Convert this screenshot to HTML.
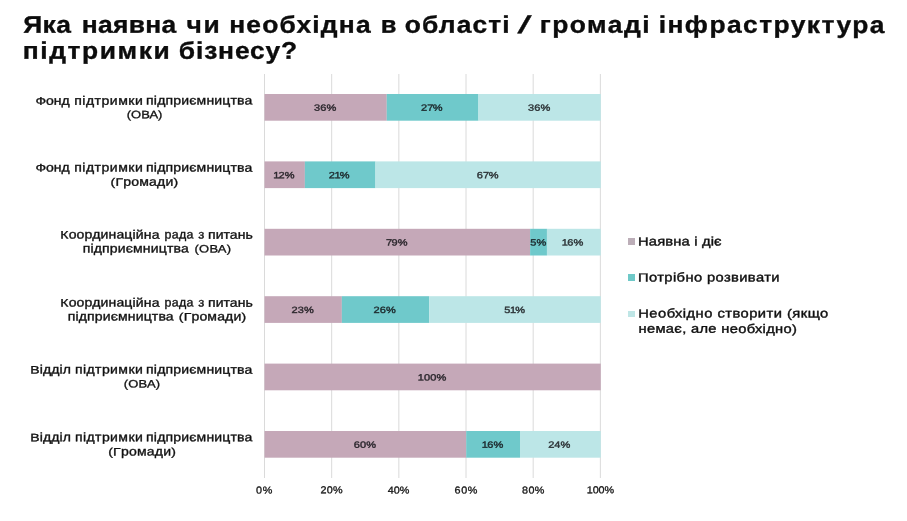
<!DOCTYPE html>
<html lang="uk"><head><meta charset="utf-8"><title>Інфраструктура підтримки бізнесу</title>
<style>
html,body{margin:0;padding:0;background:#fff;}
body{text-rendering:geometricPrecision;width:907px;height:521px;position:relative;overflow:hidden;font-family:"Liberation Sans",sans-serif;color:#111;}
.abs{position:absolute;}
h1{position:absolute;left:0;top:12px;margin:0;width:907px;height:54px;font-size:24px;line-height:26px;font-weight:bold;color:#0c0c0c;-webkit-text-stroke:0.35px #0c0c0c;}
h1 span{position:absolute;white-space:nowrap;transform-origin:0 0;}
.dl{position:absolute;font-size:9.1px;color:rgba(15,15,20,0.72);text-align:center;line-height:26.6px;height:26.6px;white-space:nowrap;transform:scaleX(1.21);-webkit-text-stroke:0.45px rgba(15,15,20,0.72);letter-spacing:0.1px;}
.cat{position:absolute;font-size:12.3px;line-height:13px;white-space:nowrap;color:#111;transform-origin:0 0;-webkit-text-stroke:0.35px #111;}
.c{display:inline-block;line-height:normal;transform-origin:0 0.905em;}
.cat .c{transform:scaleY(0.878);}
.lg .c{transform:scaleY(0.936);}
.n1{margin:0 -0.8px 0 -0.5px}.n7{margin-right:-0.5px}
.ax{position:absolute;font-size:10px;line-height:12px;white-space:nowrap;color:#151515;transform-origin:0 0;-webkit-text-stroke:0.3px #151515;}
.lg{position:absolute;font-size:12.6px;line-height:15px;white-space:nowrap;color:#111;transform-origin:0 0;-webkit-text-stroke:0.4px #111;}
.sw{position:absolute;width:6.9px;height:6.8px;left:627.9px;}
</style></head><body>
<h1><span style="left:23px;top:0px;letter-spacing:0.368px;transform:translate(0.25px,0.80px) rotate(0.03deg)  scaleX(1.1000)">Яка</span> <span style="left:81px;top:0px;letter-spacing:0.300px;transform:translate(0.75px,0.80px) rotate(0.03deg)  scaleX(1.1000)">наявна</span> <span style="left:186px;top:0px;letter-spacing:1.427px;transform:translate(0.60px,0.80px) rotate(0.03deg)  scaleX(1.1000)">чи</span> <span style="left:229px;top:0px;letter-spacing:1.105px;transform:translate(0.15px,0.80px) rotate(0.03deg)  scaleX(1.1000)">необхідна</span> <span style="left:380px;top:0px;letter-spacing:0.000px;transform:translate(0.80px,0.80px) rotate(0.03deg)  scaleX(1.0652)">в</span> <span style="left:404px;top:0px;letter-spacing:0.983px;transform:translate(0.85px,0.80px) rotate(0.03deg)  scaleX(1.1000)">області</span> <span style="left:523px;top:0px;letter-spacing:0.000px;transform:translate(0.30px,0.80px) rotate(0.03deg) skewX(-17deg) scaleX(1.4000)">/</span> <span style="left:539px;top:0px;letter-spacing:1.341px;transform:translate(0.80px,0.80px) rotate(0.03deg)  scaleX(1.1000)">громаді</span> <span style="left:658px;top:0px;letter-spacing:1.293px;transform:translate(0.75px,0.80px) rotate(0.03deg)  scaleX(1.1000)">інфраструктура</span> <span style="left:22px;top:26px;letter-spacing:1.436px;transform:translate(0.80px,0.75px) rotate(0.03deg)  scaleX(1.1000)">підтримки</span> <span style="left:178px;top:26px;letter-spacing:0.761px;transform:translate(0.85px,0.75px) rotate(0.03deg)  scaleX(1.1000)">бізнесу?</span></h1>

<svg class="abs" style="left:0;top:0" width="907" height="521" viewBox="0 0 907 521"><rect x="264.00" y="74" width="1" height="404" fill="#dadada"/><rect x="331.17" y="74" width="1" height="404" fill="#dadada"/><rect x="398.34" y="74" width="1" height="404" fill="#dadada"/><rect x="465.51" y="74" width="1" height="404" fill="#dadada"/><rect x="532.68" y="74" width="1" height="404" fill="#dadada"/><rect x="599.85" y="74" width="1" height="404" fill="#dadada"/><rect x="264.50" y="94.00" width="122.29" height="26.7" fill="#c5a8b8"/><rect x="386.74" y="94.00" width="91.73" height="26.7" fill="#6fc9cb"/><rect x="478.42" y="94.00" width="122.33" height="26.7" fill="#bce6e7"/><rect x="264.50" y="161.40" width="40.39" height="26.7" fill="#c5a8b8"/><rect x="304.84" y="161.40" width="70.65" height="26.7" fill="#6fc9cb"/><rect x="375.45" y="161.40" width="225.30" height="26.7" fill="#bce6e7"/><rect x="264.50" y="228.80" width="265.65" height="26.7" fill="#c5a8b8"/><rect x="530.10" y="228.80" width="16.86" height="26.7" fill="#6fc9cb"/><rect x="546.91" y="228.80" width="53.84" height="26.7" fill="#bce6e7"/><rect x="264.50" y="296.20" width="77.38" height="26.7" fill="#c5a8b8"/><rect x="341.83" y="296.20" width="87.46" height="26.7" fill="#6fc9cb"/><rect x="429.24" y="296.20" width="171.51" height="26.7" fill="#bce6e7"/><rect x="264.50" y="363.60" width="336.25" height="26.7" fill="#c5a8b8"/><rect x="264.50" y="431.00" width="201.77" height="26.7" fill="#c5a8b8"/><rect x="466.22" y="431.00" width="53.84" height="26.7" fill="#6fc9cb"/><rect x="520.01" y="431.00" width="80.74" height="26.7" fill="#bce6e7"/></svg>
<div class="dl" style="left:263.90px;top:94px;width:122.24px;transform:translateY(0.80px) rotate(0.03deg) scaleX(1.21)">36%</div>
<div class="dl" style="left:386.14px;top:94px;width:91.68px;transform:translateY(0.80px) rotate(0.03deg) scaleX(1.21)">2<span class="n7">7</span>%</div>
<div class="dl" style="left:477.82px;top:94px;width:122.28px;transform:translateY(0.80px) rotate(0.03deg) scaleX(1.21)">36%</div>
<div class="dl" style="left:263.90px;top:162px;width:40.34px;transform:translateY(0.20px) rotate(0.03deg) scaleX(1.21)"><span class="n1">1</span>2%</div>
<div class="dl" style="left:304.24px;top:162px;width:70.60px;transform:translateY(0.20px) rotate(0.03deg) scaleX(1.21)">2<span class="n1">1</span>%</div>
<div class="dl" style="left:374.85px;top:162px;width:225.25px;transform:translateY(0.20px) rotate(0.03deg) scaleX(1.21)">6<span class="n7">7</span>%</div>
<div class="dl" style="left:263.90px;top:229px;width:265.60px;transform:translateY(0.60px) rotate(0.03deg) scaleX(1.21)"><span class="n7">7</span>9%</div>
<div class="dl" style="left:529.50px;top:229px;width:16.81px;transform:translateY(0.60px) rotate(0.03deg) scaleX(1.21)">5%</div>
<div class="dl" style="left:546.31px;top:229px;width:53.79px;transform:translateY(0.60px) rotate(0.03deg) scaleX(1.21)"><span class="n1">1</span>6%</div>
<div class="dl" style="left:263.90px;top:297px;width:77.33px;transform:translateY(0.00px) rotate(0.03deg) scaleX(1.21)">23%</div>
<div class="dl" style="left:341.23px;top:297px;width:87.41px;transform:translateY(0.00px) rotate(0.03deg) scaleX(1.21)">26%</div>
<div class="dl" style="left:428.64px;top:297px;width:171.46px;transform:translateY(0.00px) rotate(0.03deg) scaleX(1.21)">5<span class="n1">1</span>%</div>
<div class="dl" style="left:263.90px;top:364px;width:336.20px;transform:translateY(0.40px) rotate(0.03deg) scaleX(1.21)">100%</div>
<div class="dl" style="left:263.90px;top:431px;width:201.72px;transform:translateY(0.80px) rotate(0.03deg) scaleX(1.21)">60%</div>
<div class="dl" style="left:465.62px;top:431px;width:53.79px;transform:translateY(0.80px) rotate(0.03deg) scaleX(1.21)"><span class="n1">1</span>6%</div>
<div class="dl" style="left:519.41px;top:431px;width:80.69px;transform:translateY(0.80px) rotate(0.03deg) scaleX(1.21)">24%</div>
<div class="cat" style="left:35px;top:93px;letter-spacing:-0.045px;transform:translate(0.50px,0.69px) rotate(0.03deg) scaleX(1.1404)"><span class="c">Ф</span>онд</div>
<div class="cat" style="left:74px;top:94px;letter-spacing:0.435px;transform:translate(0.25px,0.69px) rotate(0.03deg) scaleX(1.1404)">підтримки</div>
<div class="cat" style="left:146px;top:94px;letter-spacing:0.151px;transform:translate(0.10px,0.44px) rotate(0.03deg) scaleX(1.1404)">підприємництва</div>
<div class="cat" style="left:35px;top:160px;letter-spacing:-0.045px;transform:translate(0.50px,0.59px) rotate(0.03deg) scaleX(1.1404)"><span class="c">Ф</span>онд</div>
<div class="cat" style="left:74px;top:161px;letter-spacing:0.435px;transform:translate(0.25px,0.59px) rotate(0.03deg) scaleX(1.1404)">підтримки</div>
<div class="cat" style="left:146px;top:161px;letter-spacing:0.151px;transform:translate(0.10px,0.59px) rotate(0.03deg) scaleX(1.1404)">підприємництва</div>
<div class="cat" style="left:126px;top:107px;letter-spacing:0.042px;transform:translate(0.70px,0.34px) rotate(0.03deg) scaleX(1.0526)"><span class="c">(ОВА)</span></div>
<div class="cat" style="left:110px;top:174px;letter-spacing:0.169px;transform:translate(0.55px,0.74px) rotate(0.03deg) scaleX(1.1404)"><span class="c">(Г</span>ромади<span class="c">)</span></div>
<div class="cat" style="left:60px;top:227px;letter-spacing:0.136px;transform:translate(0.30px,0.59px) rotate(0.03deg) scaleX(1.1404)"><span class="c">К</span>оординаційна</div>
<div class="cat" style="left:164px;top:228px;letter-spacing:0.314px;transform:translate(0.55px,0.59px) rotate(0.03deg) scaleX(1.0088)">рада</div>
<div class="cat" style="left:198px;top:228px;letter-spacing:0.300px;transform:translate(0.20px,0.59px) rotate(0.03deg) scaleX(1.0723)">з</div>
<div class="cat" style="left:208px;top:228px;letter-spacing:0.019px;transform:translate(0.10px,0.84px) rotate(0.03deg) scaleX(1.1404)">питань</div>
<div class="cat" style="left:60px;top:295px;letter-spacing:0.136px;transform:translate(0.30px,0.59px) rotate(0.03deg) scaleX(1.1404)"><span class="c">К</span>оординаційна</div>
<div class="cat" style="left:164px;top:296px;letter-spacing:0.314px;transform:translate(0.55px,0.59px) rotate(0.03deg) scaleX(1.0088)">рада</div>
<div class="cat" style="left:198px;top:296px;letter-spacing:0.300px;transform:translate(0.20px,0.59px) rotate(0.03deg) scaleX(1.0723)">з</div>
<div class="cat" style="left:208px;top:296px;letter-spacing:0.019px;transform:translate(0.10px,0.84px) rotate(0.03deg) scaleX(1.1404)">питань</div>
<div class="cat" style="left:82px;top:242px;letter-spacing:0.135px;transform:translate(0.70px,0.54px) rotate(0.03deg) scaleX(1.1404)">підприємництва</div>
<div class="cat" style="left:194px;top:241px;letter-spacing:0.243px;transform:translate(0.50px,0.54px) rotate(0.03deg) scaleX(1.0526)"><span class="c">(ОВА)</span></div>
<div class="cat" style="left:67px;top:310px;letter-spacing:0.125px;transform:translate(0.75px,0.54px) rotate(0.03deg) scaleX(1.1404)">підприємництва</div>
<div class="cat" style="left:178px;top:309px;letter-spacing:0.141px;transform:translate(0.85px,0.54px) rotate(0.03deg) scaleX(1.1404)"><span class="c">(Г</span>ромади<span class="c">)</span></div>
<div class="cat" style="left:30px;top:362px;letter-spacing:0.065px;transform:translate(0.30px,0.59px) rotate(0.03deg) scaleX(1.1404)"><span class="c">В</span>ідділ</div>
<div class="cat" style="left:74px;top:363px;letter-spacing:0.370px;transform:translate(0.90px,0.59px) rotate(0.03deg) scaleX(1.1404)">підтримки</div>
<div class="cat" style="left:146px;top:363px;letter-spacing:0.151px;transform:translate(0.10px,0.59px) rotate(0.03deg) scaleX(1.1404)">підприємництва</div>
<div class="cat" style="left:30px;top:430px;letter-spacing:0.065px;transform:translate(0.30px,0.24px) rotate(0.03deg) scaleX(1.1404)"><span class="c">В</span>ідділ</div>
<div class="cat" style="left:74px;top:431px;letter-spacing:0.370px;transform:translate(0.90px,0.24px) rotate(0.03deg) scaleX(1.1404)">підтримки</div>
<div class="cat" style="left:146px;top:431px;letter-spacing:0.151px;transform:translate(0.10px,0.24px) rotate(0.03deg) scaleX(1.1404)">підприємництва</div>
<div class="cat" style="left:123px;top:376px;letter-spacing:0.224px;transform:translate(0.70px,0.39px) rotate(0.03deg) scaleX(1.0526)"><span class="c">(ОВА)</span></div>
<div class="cat" style="left:108px;top:444px;letter-spacing:0.199px;transform:translate(0.20px,0.39px) rotate(0.03deg) scaleX(1.1404)"><span class="c">(Г</span>ромади<span class="c">)</span></div>
<div class="lg" style="left:638px;top:234px;letter-spacing:0.147px;transform:translate(0.00px,0.38px) rotate(0.03deg) scaleX(1.1682)"><span class="c">Н</span>аявна і діє</div>
<div class="lg" style="left:638px;top:270px;letter-spacing:0.332px;transform:translate(0.00px,0.48px) rotate(0.03deg) scaleX(1.1682)"><span class="c">П</span>отрібно розвивати</div>
<div class="lg" style="left:638px;top:306px;letter-spacing:0.395px;transform:translate(0.25px,0.38px) rotate(0.03deg) scaleX(1.1682)"><span class="c">Н</span>еобхідно створити <span class="c">(</span>якщо</div>
<div class="lg" style="left:638px;top:321px;letter-spacing:0.267px;transform:translate(0.50px,0.83px) rotate(0.03deg) scaleX(1.1682)">немає, але необхідно<span class="c">)</span></div>
<div class="ax" style="left:255px;top:485px;letter-spacing:0.632px;transform:translate(1.00px,0.38px) rotate(0.03deg) scaleX(1.0800)">0%</div>
<div class="ax" style="left:320px;top:485px;letter-spacing:0.204px;transform:translate(0.50px,0.13px) rotate(0.03deg) scaleX(1.0800)">20%</div>
<div class="ax" style="left:387px;top:485px;letter-spacing:-0.004px;transform:translate(0.75px,0.38px) rotate(0.03deg) scaleX(1.0800)">40%</div>
<div class="ax" style="left:454px;top:485px;letter-spacing:0.586px;transform:translate(0.50px,0.38px) rotate(0.03deg) scaleX(1.0800)">60%</div>
<div class="ax" style="left:521px;top:485px;letter-spacing:0.366px;transform:translate(1.00px,0.38px) rotate(0.03deg) scaleX(1.0800)">80%</div>
<div class="ax" style="left:586px;top:485px;letter-spacing:-0.066px;transform:translate(0.75px,0.13px) rotate(0.03deg) scaleX(1.0800)">100%</div>
<div class="sw" style="top:238.2px;background:#bcaeb8"></div>
<div class="sw" style="top:274.2px;background:#6fc9c8"></div>
<div class="sw" style="top:310.6px;background:#bfe6e6"></div>
</body></html>
